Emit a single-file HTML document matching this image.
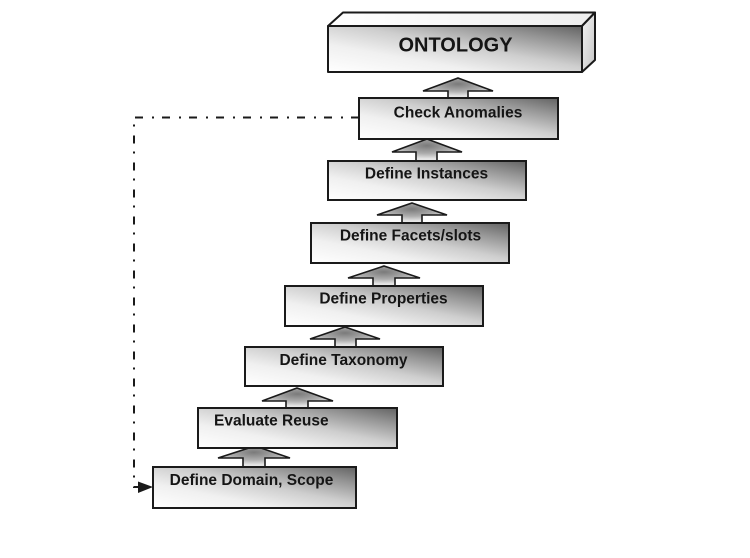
<!DOCTYPE html>
<html>
<head>
<meta charset="utf-8">
<style>
  html,body{margin:0;padding:0;background:#fff;}
  svg{display:block;}
  text{font-family:"Liberation Sans",Arial,sans-serif;font-weight:bold;fill:#151515;}
</style>
</head>
<body>
<svg width="750" height="558" viewBox="0 0 750 558" xmlns="http://www.w3.org/2000/svg">
  <defs>
    <linearGradient id="bg" x1="0" y1="1" x2="1" y2="0">
      <stop offset="0" stop-color="#ffffff"/>
      <stop offset="0.3" stop-color="#f0f0f0"/>
      <stop offset="0.55" stop-color="#cecece"/>
      <stop offset="0.8" stop-color="#949494"/>
      <stop offset="1" stop-color="#626262"/>
    </linearGradient>
    <radialGradient id="ag" cx="0.5" cy="0.3" r="0.6">
      <stop offset="0" stop-color="#7a7a7a"/>
      <stop offset="0.6" stop-color="#adadad"/>
      <stop offset="1" stop-color="#e6e6e6"/>
    </radialGradient>
    <linearGradient id="side" x1="0" y1="0" x2="1" y2="1">
      <stop offset="0" stop-color="#f4f4f4"/>
      <stop offset="1" stop-color="#c4c4c4"/>
    </linearGradient>
    <linearGradient id="topf" x1="0" y1="0" x2="1" y2="0">
      <stop offset="0" stop-color="#ffffff"/>
      <stop offset="1" stop-color="#eeeeee"/>
    </linearGradient>
  </defs>

  <!-- Dash-dot feedback connector -->
  <path d="M359 117.5 H134 V487 H140" fill="none" stroke="#1a1a1a" stroke-width="2" stroke-dasharray="8,8,2,9"/>
  <polygon points="138,481.5 153,487 138,493" fill="#1a1a1a"/>

  <!-- Arrows -->
  <g stroke="#1a1a1a" stroke-width="1.6" fill="url(#ag)" stroke-linejoin="miter">
    <polygon points="458,78 493,91 468,91 468,98 448,98 448,91 423,91"/>
    <polygon points="427,139 462,152 437,152 437,161 416,161 416,152 392,152"/>
    <polygon points="412,203 447,215 422,215 422,223 402,223 402,215 377,215"/>
    <polygon points="384,266 420,278 395,278 395,286 373,286 373,278 348,278"/>
    <polygon points="345,327 380,339 356,339 356,347 335,347 335,339 310,339"/>
    <polygon points="297,388 333,401 308,401 308,408 286,408 286,401 262,401"/>
    <polygon points="255,446 290,458 265,458 265,467 243,467 243,458 218,458"/>
  </g>

  <!-- ONTOLOGY prism -->
  <g stroke="#1a1a1a" stroke-width="2" stroke-linejoin="round">
    <polygon points="328,26 343,12.5 595,12.5 582,26" fill="url(#topf)"/>
    <polygon points="582,26 595,12.5 595,60 582,72" fill="url(#side)"/>
    <rect x="328" y="26" width="254" height="46" fill="url(#bg)"/>
  </g>
  <text x="455.5" y="51.5" font-size="20" text-anchor="middle">ONTOLOGY</text>

  <!-- Step boxes -->
  <g stroke="#1a1a1a" stroke-width="2" fill="url(#bg)">
    <rect x="359" y="98" width="199" height="41"/>
    <rect x="328" y="161" width="198" height="39"/>
    <rect x="311" y="223" width="198" height="40"/>
    <rect x="285" y="286" width="198" height="40"/>
    <rect x="245" y="347" width="198" height="39"/>
    <rect x="198" y="408" width="199" height="40"/>
    <rect x="153" y="467" width="203" height="41"/>
  </g>

  <g font-size="15.5">
    <text x="458" y="117.3" text-anchor="middle">Check Anomalies</text>
    <text x="426.5" y="178.3" text-anchor="middle">Define Instances</text>
    <text x="410.5" y="240.7" text-anchor="middle">Define Facets/slots</text>
    <text x="383.5" y="303.3" text-anchor="middle">Define Properties</text>
    <text x="343.5" y="365" text-anchor="middle">Define Taxonomy</text>
    <text x="214" y="425.7">Evaluate Reuse</text>
    <text x="251.5" y="485" text-anchor="middle">Define Domain, Scope</text>
  </g>
</svg>
</body>
</html>
